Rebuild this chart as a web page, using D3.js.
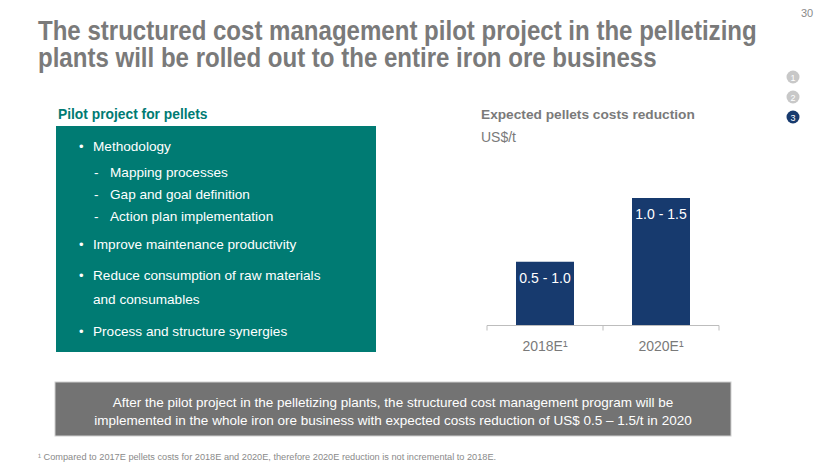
<!DOCTYPE html>
<html><head><meta charset="utf-8">
<script src="https://cdn.jsdelivr.net/npm/d3@7"></script>
<style>
body{margin:0;background:#fff;}
svg text{font-family:"Liberation Sans",Arial,sans-serif;}
</style></head>
<body><svg id="c" width="830" height="467"></svg>
<script>
const categories = ["2018E\u00B9", "2020E\u00B9"];
const values = [0.75, 1.5];
const rangeLabels = ["0.5 - 1.0", "1.0 - 1.5"];
const titleLines = ["The structured cost management pilot project in the pelletizing", "plants will be rolled out to the entire iron ore business"];
const bullets = [
  {t:"Methodology", lvl:0},
  {t:"Mapping processes", lvl:1},
  {t:"Gap and goal definition", lvl:1},
  {t:"Action plan implementation", lvl:1},
  {t:"Improve maintenance productivity", lvl:0},
  {t:"Reduce consumption of raw materials", lvl:0},
  {t:"and consumables", lvl:2},
  {t:"Process and structure synergies", lvl:0}
];
const bulletY = [151, 177, 199, 221, 249, 280, 304, 336];
const bannerLines = ["After the pilot project in the pelletizing plants, the structured cost management program will be", "implemented in the whole iron ore business with expected costs reduction of US$ 0.5 \u2013 1.5/t in 2020"];
const footnote = "\u00B9 Compared to 2017E pellets costs for 2018E and 2020E, therefore 2020E reduction is not incremental to 2018E.";

const svg = d3.select("#c");

// Title (condensed by horizontal scale)
const tg = svg.append("g");
const tt = tg.append("text")
  .attr("font-weight","bold").attr("font-size",28.5).attr("fill","#7a7a7a");
tt.selectAll("tspan").data(titleLines).join("tspan")
  .attr("x",0).attr("y",(d,i)=>40+i*27).text(d=>d);
const w0 = tt.select("tspan").node().getComputedTextLength();
const sx = 719 / w0;
tg.attr("transform",`translate(38,0) scale(${sx},1)`);

svg.append("text").attr("x",807).attr("y",17).attr("font-size",11).attr("fill","#8a8a8a")
  .attr("text-anchor","middle").text("30");

// page dots
[1,2,3].forEach((n,i)=>{
  svg.append("circle").attr("cx",793).attr("cy",77+i*20).attr("r",6.5)
    .attr("fill", n===3?"#173a6e":"#c8c8c8");
  svg.append("text").attr("x",793).attr("y",77+i*20+3.5).attr("text-anchor","middle")
    .attr("font-size",9).attr("fill","#fff").text(n);
});

// Left panel
svg.append("text").attr("x",58).attr("y",119).attr("font-weight","bold").attr("font-size",13.8)
  .attr("fill","#007b73").text("Pilot project for pellets");
svg.append("rect").attr("x",56).attr("y",126).attr("width",320).attr("height",226).attr("fill","#007b73");
const bg = svg.append("g");
bullets.forEach((b,i)=>{
  const y = bulletY[i];
  if(b.lvl===0) bg.append("text").attr("x",79).attr("y",y).attr("fill","#fff").attr("font-size",13).text("\u2022");
  if(b.lvl===1) bg.append("text").attr("x",94).attr("y",y).attr("fill","#fff").attr("font-size",13.6).text("-");
  bg.append("text").attr("x",b.lvl===1?110:93).attr("y",y).attr("fill","#fff").attr("font-size",13.6).text(b.t);
});

// Chart
svg.append("text").attr("x",481).attr("y",119).attr("font-weight","bold").attr("font-size",13.7)
  .attr("fill","#7a7a7a").text("Expected pellets costs reduction");
svg.append("text").attr("x",481).attr("y",142).attr("font-size",14)
  .attr("fill","#7a7a7a").text("US$/t");

const x = d3.scaleBand().domain(categories).range([487,719]).paddingInner(0.5).paddingOuter(0.25);
const y = d3.scaleLinear().domain([0,1.5]).range([325.5,198]);
svg.selectAll("rect.bar").data(values).join("rect").attr("class","bar")
  .attr("x",(d,i)=>x(categories[i])).attr("width",x.bandwidth())
  .attr("y",d=>y(d)).attr("height",d=>y(0)-y(d)).attr("fill","#173a6e");
svg.selectAll("text.lbl").data(values).join("text").attr("class","lbl")
  .attr("x",(d,i)=>x(categories[i])+x.bandwidth()/2).attr("y",d=>y(d)+21)
  .attr("text-anchor","middle").attr("fill","#fff").attr("font-size",14).text((d,i)=>rangeLabels[i]);

const xa = svg.append("g").attr("transform","translate(0,325.5)");
xa.append("line").attr("x1",487).attr("x2",719).attr("stroke","#bdbdbd");
[487,603,719].forEach(t=>xa.append("line").attr("x1",t).attr("x2",t).attr("y1",0).attr("y2",5).attr("stroke","#bdbdbd"));
xa.selectAll("text").data(categories).join("text")
  .attr("x",d=>x(d)+x.bandwidth()/2).attr("y",25).attr("text-anchor","middle")
  .attr("font-size",14).attr("fill","#7a7a7a").text(d=>d);

// Banner
svg.append("rect").attr("x",55).attr("y",382).attr("width",676).attr("height",54).attr("fill","#737373")
  .attr("stroke","#d0d0d0").attr("stroke-width",1);
svg.selectAll("text.ban").data(bannerLines).join("text").attr("class","ban")
  .attr("x",393).attr("y",(d,i)=>407+i*18).attr("text-anchor","middle")
  .attr("font-size",13.5).attr("fill","#fff").text(d=>d);

svg.append("text").attr("x",38).attr("y",460).attr("font-size",9.2).attr("fill","#8a8a8a").text(footnote);
</script></body></html>
